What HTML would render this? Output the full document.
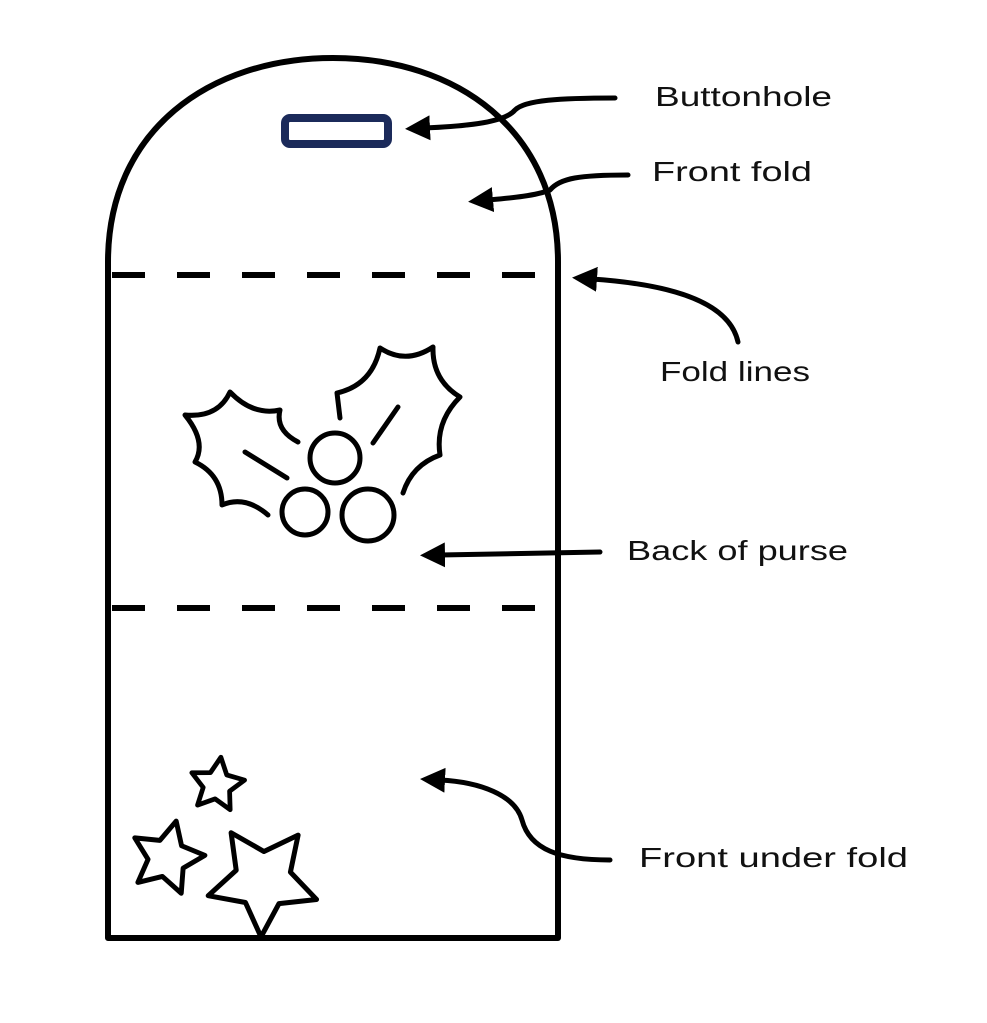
<!DOCTYPE html>
<html><head><meta charset="utf-8"><style>
html,body{margin:0;padding:0;background:#fff}
svg{display:block}
text{font-family:"Liberation Sans",sans-serif;font-size:28px;fill:#111}
</style></head><body>
<svg width="987" height="1023" viewBox="0 0 987 1023" xmlns="http://www.w3.org/2000/svg">
<defs>
<marker id="ah" viewBox="0 0 10 10" refX="2" refY="5" markerWidth="5" markerHeight="5" orient="auto-start-reverse">
<path d="M0,0 L10,5 L0,10 z" fill="#000"/>
</marker>
<path id="st" d="M0,-1 L0.294,-0.405 L0.951,-0.309 L0.476,0.155 L0.588,0.809 L0,0.5 L-0.588,0.809 L-0.476,0.155 L-0.951,-0.309 L-0.294,-0.405 Z"/>
</defs>
<g fill="none" stroke="#000" stroke-width="5" stroke-linecap="round" stroke-linejoin="round">
<path d="M108,938 L108,262 C108,130 210,58 333,58 C456,58 558,130 558,262 L558,938 Z" stroke-linecap="butt" stroke-width="6"/>
<line x1="112" y1="275" x2="545" y2="275" stroke-width="6" stroke-dasharray="33,32" stroke-linecap="butt"/>
<line x1="112" y1="608" x2="545" y2="608" stroke-width="6" stroke-dasharray="33,32" stroke-linecap="butt"/>
<rect x="285" y="118" width="103" height="26" rx="5" stroke="#1b2a5a" stroke-width="8"/>
<path d="M298,442 Q275,430 280,410 Q253,416 230,392 Q218,418 185,415 Q207,442 195,462 Q222,475 222,505 Q245,495 268,515"/>
<line x1="245" y1="452" x2="287" y2="478"/>
<path d="M340,418 L337,393 Q372,385 380,348 Q406,365 433,347 Q432,380 460,397 Q435,422 440,455 Q412,465 403,493"/>
<line x1="373" y1="443" x2="398" y2="407"/>
<circle cx="335" cy="458" r="25"/>
<circle cx="305" cy="512" r="23"/>
<circle cx="368" cy="515" r="26"/>
<use href="#st" transform="translate(217,785) rotate(8) scale(28)" vector-effect="non-scaling-stroke" stroke-width="0.17"/>
<use href="#st" transform="translate(167,858) rotate(14) scale(38)" stroke-width="0.13"/>
<use href="#st" transform="translate(263,880) rotate(182) scale(57)" stroke-width="0.088"/>
<path d="M615,98 C560,98 525,100 515,110 C505,122 470,126 425,128" marker-end="url(#ah)"/>
<path d="M628,175 C580,175 560,178 550,190 C535,196 510,198 488,200" marker-end="url(#ah)"/>
<path d="M738,342 C730,305 680,285 592,279" marker-end="url(#ah)"/>
<path d="M600,552 L440,555" marker-end="url(#ah)"/>
<path d="M610,860 C560,860 530,850 522,820 C515,795 480,782 440,780" marker-end="url(#ah)"/>
</g>
<text x="655" y="106" textLength="177" lengthAdjust="spacingAndGlyphs">Buttonhole</text>
<text x="652" y="181" textLength="160" lengthAdjust="spacingAndGlyphs">Front fold</text>
<text x="660" y="381" textLength="150" lengthAdjust="spacingAndGlyphs">Fold lines</text>
<text x="627" y="560" textLength="221" lengthAdjust="spacingAndGlyphs">Back of purse</text>
<text x="639" y="867" textLength="269" lengthAdjust="spacingAndGlyphs">Front under fold</text>
</svg>
</body></html>
